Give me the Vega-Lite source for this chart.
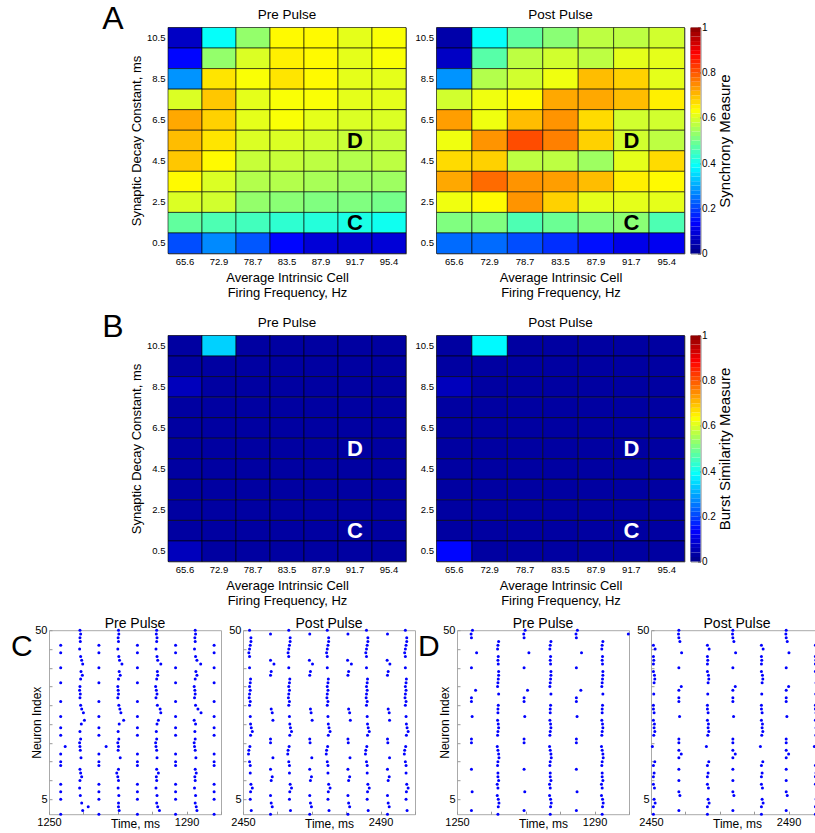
{
"$schema":"https://vega.github.io/schema/vega-lite/v6.json",
"padding":{"left":10,"top":2.5,"right":0,"bottom":0},
"config":{"font":"Liberation Sans","view":{"stroke":"#888888","strokeWidth":1},"axis":{"grid":false,"domain":false,"ticks":false,"labelColor":"#000000","titleColor":"#000000","titleFontWeight":"normal","labelFont":"Liberation Sans","titleFont":"Liberation Sans"},"title":{"fontWeight":"normal","color":"#000000","font":"Liberation Sans"}},
"datasets":{
"ap":[
{"f":"65.6","d":10.5,"s":0.06},{"f":"72.9","d":10.5,"s":0.38},{"f":"78.7","d":10.5,"s":0.52},{"f":"83.5","d":10.5,"s":0.63},{"f":"87.9","d":10.5,"s":0.63},{"f":"91.7","d":10.5,"s":0.6},{"f":"95.4","d":10.5,"s":0.62},
{"f":"65.6","d":9.5,"s":0.13},{"f":"72.9","d":9.5,"s":0.52},{"f":"78.7","d":9.5,"s":0.59},{"f":"83.5","d":9.5,"s":0.64},{"f":"87.9","d":9.5,"s":0.63},{"f":"91.7","d":9.5,"s":0.6},{"f":"95.4","d":9.5,"s":0.62},
{"f":"65.6","d":8.5,"s":0.27},{"f":"72.9","d":8.5,"s":0.65},{"f":"78.7","d":8.5,"s":0.62},{"f":"83.5","d":8.5,"s":0.65},{"f":"87.9","d":8.5,"s":0.63},{"f":"91.7","d":8.5,"s":0.6},{"f":"95.4","d":8.5,"s":0.6},
{"f":"65.6","d":7.5,"s":0.59},{"f":"72.9","d":7.5,"s":0.68},{"f":"78.7","d":7.5,"s":0.6},{"f":"83.5","d":7.5,"s":0.62},{"f":"87.9","d":7.5,"s":0.62},{"f":"91.7","d":7.5,"s":0.6},{"f":"95.4","d":7.5,"s":0.6},
{"f":"65.6","d":6.5,"s":0.71},{"f":"72.9","d":6.5,"s":0.67},{"f":"78.7","d":6.5,"s":0.6},{"f":"83.5","d":6.5,"s":0.62},{"f":"87.9","d":6.5,"s":0.6},{"f":"91.7","d":6.5,"s":0.59},{"f":"95.4","d":6.5,"s":0.59},
{"f":"65.6","d":5.5,"s":0.69},{"f":"72.9","d":5.5,"s":0.65},{"f":"78.7","d":5.5,"s":0.59},{"f":"83.5","d":5.5,"s":0.59},{"f":"87.9","d":5.5,"s":0.58},{"f":"91.7","d":5.5,"s":0.57},{"f":"95.4","d":5.5,"s":0.57},
{"f":"65.6","d":4.5,"s":0.68},{"f":"72.9","d":4.5,"s":0.63},{"f":"78.7","d":4.5,"s":0.57},{"f":"83.5","d":4.5,"s":0.57},{"f":"87.9","d":4.5,"s":0.56},{"f":"91.7","d":4.5,"s":0.55},{"f":"95.4","d":4.5,"s":0.56},
{"f":"65.6","d":3.5,"s":0.63},{"f":"72.9","d":3.5,"s":0.59},{"f":"78.7","d":3.5,"s":0.55},{"f":"83.5","d":3.5,"s":0.55},{"f":"87.9","d":3.5,"s":0.54},{"f":"91.7","d":3.5,"s":0.53},{"f":"95.4","d":3.5,"s":0.53},
{"f":"65.6","d":2.5,"s":0.59},{"f":"72.9","d":2.5,"s":0.58},{"f":"78.7","d":2.5,"s":0.52},{"f":"83.5","d":2.5,"s":0.51},{"f":"87.9","d":2.5,"s":0.5},{"f":"91.7","d":2.5,"s":0.5},{"f":"95.4","d":2.5,"s":0.49},
{"f":"65.6","d":1.5,"s":0.47},{"f":"72.9","d":1.5,"s":0.45},{"f":"78.7","d":1.5,"s":0.44},{"f":"83.5","d":1.5,"s":0.42},{"f":"87.9","d":1.5,"s":0.41},{"f":"91.7","d":1.5,"s":0.4},{"f":"95.4","d":1.5,"s":0.39},
{"f":"65.6","d":0.5,"s":0.2},{"f":"72.9","d":0.5,"s":0.26},{"f":"78.7","d":0.5,"s":0.21},{"f":"83.5","d":0.5,"s":0.13},{"f":"87.9","d":0.5,"s":0.08},{"f":"91.7","d":0.5,"s":0.07},{"f":"95.4","d":0.5,"s":0.08}
],
"aq":[
{"f":"65.6","d":10.5,"s":0.03},{"f":"72.9","d":10.5,"s":0.38},{"f":"78.7","d":10.5,"s":0.47},{"f":"83.5","d":10.5,"s":0.51},{"f":"87.9","d":10.5,"s":0.56},{"f":"91.7","d":10.5,"s":0.56},{"f":"95.4","d":10.5,"s":0.58},
{"f":"65.6","d":9.5,"s":0.06},{"f":"72.9","d":9.5,"s":0.46},{"f":"78.7","d":9.5,"s":0.56},{"f":"83.5","d":9.5,"s":0.58},{"f":"87.9","d":9.5,"s":0.56},{"f":"91.7","d":9.5,"s":0.6},{"f":"95.4","d":9.5,"s":0.6},
{"f":"65.6","d":8.5,"s":0.27},{"f":"72.9","d":8.5,"s":0.55},{"f":"78.7","d":8.5,"s":0.58},{"f":"83.5","d":8.5,"s":0.61},{"f":"87.9","d":8.5,"s":0.69},{"f":"91.7","d":8.5,"s":0.67},{"f":"95.4","d":8.5,"s":0.6},
{"f":"65.6","d":7.5,"s":0.58},{"f":"72.9","d":7.5,"s":0.61},{"f":"78.7","d":7.5,"s":0.63},{"f":"83.5","d":7.5,"s":0.71},{"f":"87.9","d":7.5,"s":0.71},{"f":"91.7","d":7.5,"s":0.69},{"f":"95.4","d":7.5,"s":0.64},
{"f":"65.6","d":6.5,"s":0.72},{"f":"72.9","d":6.5,"s":0.61},{"f":"78.7","d":6.5,"s":0.69},{"f":"83.5","d":6.5,"s":0.73},{"f":"87.9","d":6.5,"s":0.66},{"f":"91.7","d":6.5,"s":0.58},{"f":"95.4","d":6.5,"s":0.58},
{"f":"65.6","d":5.5,"s":0.61},{"f":"72.9","d":5.5,"s":0.73},{"f":"78.7","d":5.5,"s":0.8},{"f":"83.5","d":5.5,"s":0.75},{"f":"87.9","d":5.5,"s":0.67},{"f":"91.7","d":5.5,"s":0.58},{"f":"95.4","d":5.5,"s":0.56},
{"f":"65.6","d":4.5,"s":0.66},{"f":"72.9","d":4.5,"s":0.67},{"f":"78.7","d":4.5,"s":0.56},{"f":"83.5","d":4.5,"s":0.56},{"f":"87.9","d":4.5,"s":0.53},{"f":"91.7","d":4.5,"s":0.6},{"f":"95.4","d":4.5,"s":0.66},
{"f":"65.6","d":3.5,"s":0.71},{"f":"72.9","d":3.5,"s":0.77},{"f":"78.7","d":3.5,"s":0.73},{"f":"83.5","d":3.5,"s":0.72},{"f":"87.9","d":3.5,"s":0.69},{"f":"91.7","d":3.5,"s":0.64},{"f":"95.4","d":3.5,"s":0.63},
{"f":"65.6","d":2.5,"s":0.61},{"f":"72.9","d":2.5,"s":0.63},{"f":"78.7","d":2.5,"s":0.73},{"f":"83.5","d":2.5,"s":0.67},{"f":"87.9","d":2.5,"s":0.6},{"f":"91.7","d":2.5,"s":0.6},{"f":"95.4","d":2.5,"s":0.6},
{"f":"65.6","d":1.5,"s":0.5},{"f":"72.9","d":1.5,"s":0.5},{"f":"78.7","d":1.5,"s":0.45},{"f":"83.5","d":1.5,"s":0.48},{"f":"87.9","d":1.5,"s":0.5},{"f":"91.7","d":1.5,"s":0.51},{"f":"95.4","d":1.5,"s":0.45},
{"f":"65.6","d":0.5,"s":0.23},{"f":"72.9","d":0.5,"s":0.23},{"f":"78.7","d":0.5,"s":0.2},{"f":"83.5","d":0.5,"s":0.17},{"f":"87.9","d":0.5,"s":0.14},{"f":"91.7","d":0.5,"s":0.1},{"f":"95.4","d":0.5,"s":0.11}
],
"bp":[
{"f":"65.6","d":10.5,"s":0.02},{"f":"72.9","d":10.5,"s":0.33},{"f":"78.7","d":10.5,"s":0.02},{"f":"83.5","d":10.5,"s":0.02},{"f":"87.9","d":10.5,"s":0.02},{"f":"91.7","d":10.5,"s":0.02},{"f":"95.4","d":10.5,"s":0.02},
{"f":"65.6","d":9.5,"s":0.02},{"f":"72.9","d":9.5,"s":0.02},{"f":"78.7","d":9.5,"s":0.02},{"f":"83.5","d":9.5,"s":0.02},{"f":"87.9","d":9.5,"s":0.02},{"f":"91.7","d":9.5,"s":0.02},{"f":"95.4","d":9.5,"s":0.02},
{"f":"65.6","d":8.5,"s":0.05},{"f":"72.9","d":8.5,"s":0.02},{"f":"78.7","d":8.5,"s":0.02},{"f":"83.5","d":8.5,"s":0.02},{"f":"87.9","d":8.5,"s":0.02},{"f":"91.7","d":8.5,"s":0.02},{"f":"95.4","d":8.5,"s":0.02},
{"f":"65.6","d":7.5,"s":0.02},{"f":"72.9","d":7.5,"s":0.02},{"f":"78.7","d":7.5,"s":0.02},{"f":"83.5","d":7.5,"s":0.02},{"f":"87.9","d":7.5,"s":0.02},{"f":"91.7","d":7.5,"s":0.02},{"f":"95.4","d":7.5,"s":0.02},
{"f":"65.6","d":6.5,"s":0.02},{"f":"72.9","d":6.5,"s":0.02},{"f":"78.7","d":6.5,"s":0.02},{"f":"83.5","d":6.5,"s":0.02},{"f":"87.9","d":6.5,"s":0.02},{"f":"91.7","d":6.5,"s":0.02},{"f":"95.4","d":6.5,"s":0.02},
{"f":"65.6","d":5.5,"s":0.02},{"f":"72.9","d":5.5,"s":0.02},{"f":"78.7","d":5.5,"s":0.02},{"f":"83.5","d":5.5,"s":0.02},{"f":"87.9","d":5.5,"s":0.02},{"f":"91.7","d":5.5,"s":0.02},{"f":"95.4","d":5.5,"s":0.02},
{"f":"65.6","d":4.5,"s":0.02},{"f":"72.9","d":4.5,"s":0.02},{"f":"78.7","d":4.5,"s":0.02},{"f":"83.5","d":4.5,"s":0.02},{"f":"87.9","d":4.5,"s":0.02},{"f":"91.7","d":4.5,"s":0.02},{"f":"95.4","d":4.5,"s":0.02},
{"f":"65.6","d":3.5,"s":0.02},{"f":"72.9","d":3.5,"s":0.02},{"f":"78.7","d":3.5,"s":0.02},{"f":"83.5","d":3.5,"s":0.02},{"f":"87.9","d":3.5,"s":0.02},{"f":"91.7","d":3.5,"s":0.02},{"f":"95.4","d":3.5,"s":0.02},
{"f":"65.6","d":2.5,"s":0.02},{"f":"72.9","d":2.5,"s":0.02},{"f":"78.7","d":2.5,"s":0.02},{"f":"83.5","d":2.5,"s":0.02},{"f":"87.9","d":2.5,"s":0.02},{"f":"91.7","d":2.5,"s":0.02},{"f":"95.4","d":2.5,"s":0.02},
{"f":"65.6","d":1.5,"s":0.02},{"f":"72.9","d":1.5,"s":0.02},{"f":"78.7","d":1.5,"s":0.02},{"f":"83.5","d":1.5,"s":0.02},{"f":"87.9","d":1.5,"s":0.02},{"f":"91.7","d":1.5,"s":0.02},{"f":"95.4","d":1.5,"s":0.02},
{"f":"65.6","d":0.5,"s":0.05},{"f":"72.9","d":0.5,"s":0.02},{"f":"78.7","d":0.5,"s":0.02},{"f":"83.5","d":0.5,"s":0.02},{"f":"87.9","d":0.5,"s":0.02},{"f":"91.7","d":0.5,"s":0.02},{"f":"95.4","d":0.5,"s":0.02}
],
"bq":[
{"f":"65.6","d":10.5,"s":0.02},{"f":"72.9","d":10.5,"s":0.37},{"f":"78.7","d":10.5,"s":0.02},{"f":"83.5","d":10.5,"s":0.02},{"f":"87.9","d":10.5,"s":0.02},{"f":"91.7","d":10.5,"s":0.02},{"f":"95.4","d":10.5,"s":0.02},
{"f":"65.6","d":9.5,"s":0.02},{"f":"72.9","d":9.5,"s":0.02},{"f":"78.7","d":9.5,"s":0.02},{"f":"83.5","d":9.5,"s":0.02},{"f":"87.9","d":9.5,"s":0.02},{"f":"91.7","d":9.5,"s":0.02},{"f":"95.4","d":9.5,"s":0.02},
{"f":"65.6","d":8.5,"s":0.05},{"f":"72.9","d":8.5,"s":0.02},{"f":"78.7","d":8.5,"s":0.02},{"f":"83.5","d":8.5,"s":0.02},{"f":"87.9","d":8.5,"s":0.02},{"f":"91.7","d":8.5,"s":0.02},{"f":"95.4","d":8.5,"s":0.02},
{"f":"65.6","d":7.5,"s":0.02},{"f":"72.9","d":7.5,"s":0.02},{"f":"78.7","d":7.5,"s":0.02},{"f":"83.5","d":7.5,"s":0.02},{"f":"87.9","d":7.5,"s":0.02},{"f":"91.7","d":7.5,"s":0.02},{"f":"95.4","d":7.5,"s":0.02},
{"f":"65.6","d":6.5,"s":0.02},{"f":"72.9","d":6.5,"s":0.02},{"f":"78.7","d":6.5,"s":0.02},{"f":"83.5","d":6.5,"s":0.02},{"f":"87.9","d":6.5,"s":0.02},{"f":"91.7","d":6.5,"s":0.02},{"f":"95.4","d":6.5,"s":0.02},
{"f":"65.6","d":5.5,"s":0.02},{"f":"72.9","d":5.5,"s":0.02},{"f":"78.7","d":5.5,"s":0.02},{"f":"83.5","d":5.5,"s":0.02},{"f":"87.9","d":5.5,"s":0.02},{"f":"91.7","d":5.5,"s":0.02},{"f":"95.4","d":5.5,"s":0.02},
{"f":"65.6","d":4.5,"s":0.02},{"f":"72.9","d":4.5,"s":0.02},{"f":"78.7","d":4.5,"s":0.02},{"f":"83.5","d":4.5,"s":0.02},{"f":"87.9","d":4.5,"s":0.02},{"f":"91.7","d":4.5,"s":0.02},{"f":"95.4","d":4.5,"s":0.02},
{"f":"65.6","d":3.5,"s":0.02},{"f":"72.9","d":3.5,"s":0.02},{"f":"78.7","d":3.5,"s":0.02},{"f":"83.5","d":3.5,"s":0.02},{"f":"87.9","d":3.5,"s":0.02},{"f":"91.7","d":3.5,"s":0.02},{"f":"95.4","d":3.5,"s":0.02},
{"f":"65.6","d":2.5,"s":0.02},{"f":"72.9","d":2.5,"s":0.02},{"f":"78.7","d":2.5,"s":0.02},{"f":"83.5","d":2.5,"s":0.02},{"f":"87.9","d":2.5,"s":0.02},{"f":"91.7","d":2.5,"s":0.02},{"f":"95.4","d":2.5,"s":0.02},
{"f":"65.6","d":1.5,"s":0.02},{"f":"72.9","d":1.5,"s":0.02},{"f":"78.7","d":1.5,"s":0.02},{"f":"83.5","d":1.5,"s":0.02},{"f":"87.9","d":1.5,"s":0.02},{"f":"91.7","d":1.5,"s":0.02},{"f":"95.4","d":1.5,"s":0.02},
{"f":"65.6","d":0.5,"s":0.13},{"f":"72.9","d":0.5,"s":0.02},{"f":"78.7","d":0.5,"s":0.02},{"f":"83.5","d":0.5,"s":0.02},{"f":"87.9","d":0.5,"s":0.02},{"f":"91.7","d":0.5,"s":0.02},{"f":"95.4","d":0.5,"s":0.02}
],
"cb":[
{"v":0,"w":0.02},{"v":0.02,"w":0.04},{"v":0.04,"w":0.06},{"v":0.06,"w":0.08},{"v":0.08,"w":0.1},{"v":0.1,"w":0.12},{"v":0.12,"w":0.14},{"v":0.14,"w":0.16},{"v":0.16,"w":0.18},{"v":0.18,"w":0.2},
{"v":0.2,"w":0.22},{"v":0.22,"w":0.24},{"v":0.24,"w":0.26},{"v":0.26,"w":0.28},{"v":0.28,"w":0.3},{"v":0.3,"w":0.32},{"v":0.32,"w":0.34},{"v":0.34,"w":0.36},{"v":0.36,"w":0.38},{"v":0.38,"w":0.4},
{"v":0.4,"w":0.42},{"v":0.42,"w":0.44},{"v":0.44,"w":0.46},{"v":0.46,"w":0.48},{"v":0.48,"w":0.5},{"v":0.5,"w":0.52},{"v":0.52,"w":0.54},{"v":0.54,"w":0.56},{"v":0.56,"w":0.58},{"v":0.58,"w":0.6},
{"v":0.6,"w":0.62},{"v":0.62,"w":0.64},{"v":0.64,"w":0.66},{"v":0.66,"w":0.68},{"v":0.68,"w":0.7},{"v":0.7,"w":0.72},{"v":0.72,"w":0.74},{"v":0.74,"w":0.76},{"v":0.76,"w":0.78},{"v":0.78,"w":0.8},
{"v":0.8,"w":0.82},{"v":0.82,"w":0.84},{"v":0.84,"w":0.86},{"v":0.86,"w":0.88},{"v":0.88,"w":0.9},{"v":0.9,"w":0.92},{"v":0.92,"w":0.94},{"v":0.94,"w":0.96},{"v":0.96,"w":0.98},{"v":0.98,"w":1}
],
"c1":[
{"t":1253.4,"n":46},{"t":1253.4,"n":44},{"t":1253.4,"n":40},{"t":1253.4,"n":36},{"t":1253.4,"n":31},{"t":1253.4,"n":27},{"t":1253.4,"n":24},{"t":1253.4,"n":22},{"t":1253.4,"n":17},{"t":1253.4,"n":15},{"t":1253.4,"n":14},{"t":1253.4,"n":9},{"t":1253.4,"n":7},{"t":1253.4,"n":5},{"t":1253.4,"n":1},
{"t":1264.5,"n":46},{"t":1264.5,"n":44},{"t":1264.5,"n":40},{"t":1264.5,"n":36},{"t":1264.5,"n":31},{"t":1264.5,"n":27},{"t":1264.5,"n":24},{"t":1264.5,"n":22},{"t":1264.5,"n":17},{"t":1264.5,"n":15},{"t":1264.5,"n":14},{"t":1264.5,"n":9},{"t":1264.5,"n":7},{"t":1264.5,"n":5},{"t":1264.5,"n":1},
{"t":1275.7,"n":46},{"t":1275.7,"n":44},{"t":1275.7,"n":40},{"t":1275.7,"n":36},{"t":1275.7,"n":31},{"t":1275.7,"n":27},{"t":1275.7,"n":24},{"t":1275.7,"n":22},{"t":1275.7,"n":17},{"t":1275.7,"n":15},{"t":1275.7,"n":14},{"t":1275.7,"n":9},{"t":1275.7,"n":7},{"t":1275.7,"n":5},{"t":1275.7,"n":1},
{"t":1286.8,"n":46},{"t":1286.8,"n":44},{"t":1286.8,"n":40},{"t":1286.8,"n":36},{"t":1286.8,"n":31},{"t":1286.8,"n":27},{"t":1286.8,"n":24},{"t":1286.8,"n":22},{"t":1286.8,"n":17},{"t":1286.8,"n":15},{"t":1286.8,"n":14},{"t":1286.8,"n":9},{"t":1286.8,"n":7},{"t":1286.8,"n":5},{"t":1286.8,"n":1},
{"t":1298,"n":46},{"t":1298,"n":44},{"t":1298,"n":40},{"t":1298,"n":36},{"t":1298,"n":31},{"t":1298,"n":27},{"t":1298,"n":24},{"t":1298,"n":22},{"t":1298,"n":17},{"t":1298,"n":15},{"t":1298,"n":14},{"t":1298,"n":9},{"t":1298,"n":7},{"t":1298,"n":5},{"t":1298,"n":1},
{"t":1254.7,"n":19},{"t":1266.6,"n":19},
{"t":1259,"n":50},{"t":1259.2,"n":49},{"t":1259,"n":48},{"t":1259.1,"n":47},{"t":1258.9,"n":45},{"t":1259.2,"n":43},{"t":1259.5,"n":42},{"t":1259.8,"n":41},{"t":1259.3,"n":39},{"t":1259.7,"n":38},{"t":1259.2,"n":37},{"t":1259,"n":35},{"t":1258.9,"n":34},{"t":1259.1,"n":33},{"t":1259,"n":32},{"t":1259.2,"n":30},{"t":1259.5,"n":29},{"t":1260,"n":28},{"t":1260.3,"n":26},{"t":1259.4,"n":25},{"t":1259,"n":23},{"t":1259.2,"n":21},{"t":1258.9,"n":20},{"t":1259,"n":19},{"t":1259.1,"n":18},{"t":1259.3,"n":16},{"t":1259,"n":13},{"t":1259.2,"n":12},{"t":1259.5,"n":11},{"t":1259,"n":10},{"t":1258.9,"n":8},{"t":1259.1,"n":6},{"t":1259.5,"n":4},{"t":1261.4,"n":3},{"t":1259.8,"n":2},
{"t":1270.2,"n":50},{"t":1270.3,"n":49},{"t":1270.1,"n":48},{"t":1270.2,"n":47},{"t":1270,"n":45},{"t":1270.3,"n":43},{"t":1270.5,"n":42},{"t":1271.2,"n":41},{"t":1270.4,"n":39},{"t":1270.7,"n":38},{"t":1270.2,"n":37},{"t":1270,"n":35},{"t":1270.1,"n":34},{"t":1270.2,"n":33},{"t":1270,"n":32},{"t":1270.3,"n":30},{"t":1270.6,"n":29},{"t":1270.9,"n":28},{"t":1271.7,"n":26},{"t":1270.4,"n":25},{"t":1270.1,"n":23},{"t":1270.3,"n":21},{"t":1270,"n":20},{"t":1270.2,"n":19},{"t":1270.1,"n":18},{"t":1270.7,"n":16},{"t":1270.2,"n":13},{"t":1269.7,"n":12},{"t":1270,"n":11},{"t":1270.2,"n":10},{"t":1270.1,"n":8},{"t":1270.3,"n":6},{"t":1270.2,"n":4},{"t":1270.2,"n":3},{"t":1270.4,"n":2},
{"t":1281.3,"n":50},{"t":1281.2,"n":49},{"t":1281.4,"n":48},{"t":1281.3,"n":47},{"t":1281.1,"n":45},{"t":1281.4,"n":43},{"t":1281.6,"n":42},{"t":1282.5,"n":41},{"t":1281.5,"n":39},{"t":1281.6,"n":38},{"t":1281.3,"n":37},{"t":1281,"n":35},{"t":1281.2,"n":34},{"t":1281.4,"n":33},{"t":1281.1,"n":32},{"t":1281.5,"n":30},{"t":1282.3,"n":29},{"t":1282.5,"n":28},{"t":1281.8,"n":26},{"t":1281.4,"n":25},{"t":1281.2,"n":23},{"t":1281.3,"n":21},{"t":1281,"n":20},{"t":1281.1,"n":19},{"t":1281.3,"n":18},{"t":1281.4,"n":16},{"t":1281.3,"n":13},{"t":1281.8,"n":12},{"t":1281.2,"n":11},{"t":1281.3,"n":10},{"t":1281.1,"n":8},{"t":1281.4,"n":6},{"t":1281.3,"n":4},{"t":1281.6,"n":3},{"t":1282.1,"n":2},
{"t":1292.5,"n":50},{"t":1292.6,"n":49},{"t":1292.4,"n":48},{"t":1292.5,"n":47},{"t":1292.3,"n":45},{"t":1292.6,"n":43},{"t":1293,"n":42},{"t":1294.1,"n":41},{"t":1292.7,"n":39},{"t":1293,"n":38},{"t":1292.5,"n":37},{"t":1292.2,"n":35},{"t":1292.4,"n":34},{"t":1292.5,"n":33},{"t":1292.3,"n":32},{"t":1292.6,"n":30},{"t":1293.3,"n":29},{"t":1294.2,"n":28},{"t":1292.2,"n":26},{"t":1292.6,"n":25},{"t":1292.4,"n":23},{"t":1292.5,"n":21},{"t":1292.2,"n":20},{"t":1292.3,"n":19},{"t":1292.5,"n":18},{"t":1292.7,"n":16},{"t":1292.5,"n":13},{"t":1292.8,"n":12},{"t":1292.4,"n":11},{"t":1292.5,"n":10},{"t":1292.3,"n":8},{"t":1292.6,"n":6},{"t":1292.5,"n":4},{"t":1292.8,"n":3},{"t":1293,"n":2}
],
"c2":[
{"t":2458,"n":49},{"t":2458,"n":42},{"t":2459,"n":41},{"t":2458.2,"n":39},{"t":2458,"n":38},{"t":2458.2,"n":29},{"t":2458.5,"n":28},{"t":2458.7,"n":26},{"t":2458,"n":21},{"t":2458,"n":20},{"t":2458.7,"n":16},{"t":2458,"n":13},{"t":2458.5,"n":11},{"t":2458.2,"n":10},{"t":2458,"n":6},{"t":2458.2,"n":4},{"t":2458.5,"n":3},{"t":2458,"n":1},
{"t":2469.4,"n":49},{"t":2469.3,"n":42},{"t":2470.2,"n":41},{"t":2469.6,"n":39},{"t":2469.4,"n":38},{"t":2469.6,"n":29},{"t":2469.8,"n":28},{"t":2470.1,"n":26},{"t":2469.4,"n":21},{"t":2469.5,"n":20},{"t":2470,"n":16},{"t":2469.4,"n":13},{"t":2469.9,"n":11},{"t":2469.6,"n":10},{"t":2469.4,"n":6},{"t":2469.6,"n":4},{"t":2469.9,"n":3},{"t":2469.4,"n":1},
{"t":2480.5,"n":49},{"t":2480.4,"n":42},{"t":2481.5,"n":41},{"t":2480.7,"n":39},{"t":2480.5,"n":38},{"t":2480.7,"n":29},{"t":2481,"n":28},{"t":2481.2,"n":26},{"t":2480.5,"n":21},{"t":2480.6,"n":20},{"t":2481.1,"n":16},{"t":2480.5,"n":13},{"t":2481,"n":11},{"t":2480.7,"n":10},{"t":2480.5,"n":6},{"t":2480.7,"n":4},{"t":2481,"n":3},{"t":2480.5,"n":1},
{"t":2492,"n":49},{"t":2491.9,"n":42},{"t":2492.7,"n":41},{"t":2492.2,"n":39},{"t":2492,"n":38},{"t":2492.2,"n":29},{"t":2492.5,"n":28},{"t":2492.6,"n":26},{"t":2492,"n":21},{"t":2492.1,"n":20},{"t":2492.6,"n":16},{"t":2492,"n":13},{"t":2492.5,"n":11},{"t":2492.2,"n":10},{"t":2492,"n":6},{"t":2492.2,"n":4},{"t":2492.5,"n":3},{"t":2492,"n":1},
{"t":2451.9,"n":50},{"t":2452.3,"n":48},{"t":2452.3,"n":47},{"t":2452.1,"n":46},{"t":2451.9,"n":45},{"t":2451.7,"n":44},{"t":2451.9,"n":43},{"t":2451.9,"n":40},{"t":2452.2,"n":37},{"t":2452.1,"n":36},{"t":2451.9,"n":35},{"t":2452.1,"n":34},{"t":2451.9,"n":33},{"t":2451.8,"n":32},{"t":2452.1,"n":31},{"t":2451.9,"n":30},{"t":2452.1,"n":27},{"t":2452.2,"n":25},{"t":2452.4,"n":24},{"t":2452.7,"n":23},{"t":2452.2,"n":22},{"t":2452,"n":19},{"t":2451.7,"n":18},{"t":2451.6,"n":17},{"t":2451.9,"n":15},{"t":2452.1,"n":14},{"t":2452.1,"n":12},{"t":2452.3,"n":9},{"t":2452.7,"n":8},{"t":2452.2,"n":7},{"t":2452.1,"n":5},{"t":2452.4,"n":2},
{"t":2463.3,"n":50},{"t":2463.7,"n":48},{"t":2463.7,"n":47},{"t":2463.5,"n":46},{"t":2463.3,"n":45},{"t":2463.1,"n":44},{"t":2463.3,"n":43},{"t":2463.3,"n":40},{"t":2463.6,"n":37},{"t":2463.5,"n":36},{"t":2463.3,"n":35},{"t":2463.5,"n":34},{"t":2463.3,"n":33},{"t":2463.2,"n":32},{"t":2463.5,"n":31},{"t":2463.3,"n":30},{"t":2463.5,"n":27},{"t":2463.6,"n":25},{"t":2463.8,"n":24},{"t":2464.1,"n":23},{"t":2463.6,"n":22},{"t":2463.4,"n":19},{"t":2463.1,"n":18},{"t":2463,"n":17},{"t":2463.3,"n":15},{"t":2463.5,"n":14},{"t":2463.5,"n":12},{"t":2463.7,"n":9},{"t":2464.1,"n":8},{"t":2463.6,"n":7},{"t":2463.5,"n":5},{"t":2463.8,"n":2},
{"t":2474.5,"n":50},{"t":2474.9,"n":48},{"t":2474.9,"n":47},{"t":2474.7,"n":46},{"t":2474.5,"n":45},{"t":2474.3,"n":44},{"t":2474.5,"n":43},{"t":2474.5,"n":40},{"t":2474.8,"n":37},{"t":2474.7,"n":36},{"t":2474.5,"n":35},{"t":2474.7,"n":34},{"t":2474.5,"n":33},{"t":2474.4,"n":32},{"t":2474.7,"n":31},{"t":2474.5,"n":30},{"t":2474.7,"n":27},{"t":2474.8,"n":25},{"t":2475,"n":24},{"t":2475.3,"n":23},{"t":2474.8,"n":22},{"t":2474.6,"n":19},{"t":2474.3,"n":18},{"t":2474.2,"n":17},{"t":2474.5,"n":15},{"t":2474.7,"n":14},{"t":2474.7,"n":12},{"t":2474.9,"n":9},{"t":2475.3,"n":8},{"t":2474.8,"n":7},{"t":2474.7,"n":5},{"t":2475,"n":2},
{"t":2485.9,"n":50},{"t":2486.3,"n":48},{"t":2486.3,"n":47},{"t":2486.1,"n":46},{"t":2485.9,"n":45},{"t":2485.7,"n":44},{"t":2485.9,"n":43},{"t":2485.9,"n":40},{"t":2486.2,"n":37},{"t":2486.1,"n":36},{"t":2485.9,"n":35},{"t":2486.1,"n":34},{"t":2485.9,"n":33},{"t":2485.8,"n":32},{"t":2486.1,"n":31},{"t":2485.9,"n":30},{"t":2486.1,"n":27},{"t":2486.2,"n":25},{"t":2486.4,"n":24},{"t":2486.7,"n":23},{"t":2486.2,"n":22},{"t":2486,"n":19},{"t":2485.7,"n":18},{"t":2485.6,"n":17},{"t":2485.9,"n":15},{"t":2486.1,"n":14},{"t":2486.1,"n":12},{"t":2486.3,"n":9},{"t":2486.7,"n":8},{"t":2486.2,"n":7},{"t":2486.1,"n":5},{"t":2486.4,"n":2},
{"t":2497.2,"n":50},{"t":2497.6,"n":48},{"t":2497.6,"n":47},{"t":2497.4,"n":46},{"t":2497.2,"n":45},{"t":2497,"n":44},{"t":2497.2,"n":43},{"t":2497.2,"n":40},{"t":2497.5,"n":37},{"t":2497.4,"n":36},{"t":2497.2,"n":35},{"t":2497.4,"n":34},{"t":2497.2,"n":33},{"t":2497.1,"n":32},{"t":2497.4,"n":31},{"t":2497.2,"n":30},{"t":2497.4,"n":27},{"t":2497.5,"n":25},{"t":2497.7,"n":24},{"t":2498,"n":23},{"t":2497.5,"n":22},{"t":2497.3,"n":19},{"t":2497,"n":18},{"t":2496.9,"n":17},{"t":2497.2,"n":15},{"t":2497.4,"n":14},{"t":2497.4,"n":12},{"t":2497.6,"n":9},{"t":2498,"n":8},{"t":2497.5,"n":7},{"t":2497.4,"n":5},{"t":2497.7,"n":2}
],
"d1":[
{"t":1254.5,"n":50},{"t":1254.1,"n":49},{"t":1254.2,"n":48},{"t":1255.7,"n":44},{"t":1254.2,"n":40},{"t":1255.4,"n":34},{"t":1254.2,"n":32},{"t":1254.2,"n":31},{"t":1254.4,"n":27},{"t":1254.2,"n":21},{"t":1254.2,"n":20},{"t":1254.2,"n":13},{"t":1254.4,"n":7},{"t":1254.2,"n":2},
{"t":1269.8,"n":50},{"t":1269.4,"n":49},{"t":1269.5,"n":48},{"t":1270.9,"n":44},{"t":1269.5,"n":40},{"t":1270.5,"n":34},{"t":1269.5,"n":32},{"t":1269.5,"n":31},{"t":1269.7,"n":27},{"t":1269.5,"n":21},{"t":1269.5,"n":20},{"t":1269.5,"n":13},{"t":1269.7,"n":7},{"t":1269.5,"n":2},
{"t":1285,"n":50},{"t":1284.6,"n":49},{"t":1284.7,"n":48},{"t":1286.2,"n":44},{"t":1284.7,"n":40},{"t":1286,"n":34},{"t":1284.7,"n":32},{"t":1284.7,"n":31},{"t":1284.9,"n":27},{"t":1284.7,"n":21},{"t":1284.7,"n":20},{"t":1284.7,"n":13},{"t":1284.9,"n":7},{"t":1284.7,"n":2},
{"t":1299.8,"n":49},
{"t":1262.1,"n":47},{"t":1261.9,"n":46},{"t":1261.8,"n":45},{"t":1262,"n":43},{"t":1261.9,"n":42},{"t":1262,"n":41},{"t":1262.1,"n":39},{"t":1262.1,"n":38},{"t":1262,"n":37},{"t":1261.9,"n":36},{"t":1261.8,"n":35},{"t":1262.1,"n":33},{"t":1262,"n":30},{"t":1261.9,"n":29},{"t":1261.9,"n":28},{"t":1261.8,"n":26},{"t":1262,"n":25},{"t":1262.1,"n":24},{"t":1261.9,"n":23},{"t":1261.8,"n":22},{"t":1261.7,"n":19},{"t":1261.9,"n":18},{"t":1262.1,"n":17},{"t":1262.2,"n":16},{"t":1261.9,"n":15},{"t":1261.8,"n":14},{"t":1261.9,"n":12},{"t":1261.9,"n":11},{"t":1262.1,"n":10},{"t":1261.7,"n":9},{"t":1261.9,"n":8},{"t":1261.7,"n":6},{"t":1262,"n":5},{"t":1262.2,"n":4},{"t":1262,"n":3},{"t":1261.9,"n":1},
{"t":1277.3,"n":47},{"t":1277.1,"n":46},{"t":1277,"n":45},{"t":1277.2,"n":43},{"t":1277.1,"n":42},{"t":1277.2,"n":41},{"t":1277.3,"n":39},{"t":1277.3,"n":38},{"t":1277.2,"n":37},{"t":1277.1,"n":36},{"t":1277,"n":35},{"t":1277.3,"n":33},{"t":1277.2,"n":30},{"t":1277.1,"n":29},{"t":1277.1,"n":28},{"t":1277,"n":26},{"t":1277.2,"n":25},{"t":1277.3,"n":24},{"t":1277.1,"n":23},{"t":1277,"n":22},{"t":1276.9,"n":19},{"t":1277.1,"n":18},{"t":1277.3,"n":17},{"t":1277.4,"n":16},{"t":1277.1,"n":15},{"t":1277,"n":14},{"t":1277.1,"n":12},{"t":1277.1,"n":11},{"t":1277.3,"n":10},{"t":1276.9,"n":9},{"t":1277.1,"n":8},{"t":1276.9,"n":6},{"t":1277.2,"n":5},{"t":1277.4,"n":4},{"t":1277.2,"n":3},{"t":1277.1,"n":1},
{"t":1292.4,"n":47},{"t":1292.2,"n":46},{"t":1292.1,"n":45},{"t":1292.3,"n":43},{"t":1292.2,"n":42},{"t":1292.3,"n":41},{"t":1292.4,"n":39},{"t":1292.4,"n":38},{"t":1292.3,"n":37},{"t":1292.2,"n":36},{"t":1292.1,"n":35},{"t":1292.4,"n":33},{"t":1292.3,"n":30},{"t":1292.2,"n":29},{"t":1292.2,"n":28},{"t":1292.1,"n":26},{"t":1292.3,"n":25},{"t":1292.4,"n":24},{"t":1292.2,"n":23},{"t":1292.1,"n":22},{"t":1292,"n":19},{"t":1292.2,"n":18},{"t":1292.4,"n":17},{"t":1292.5,"n":16},{"t":1292.2,"n":15},{"t":1292.1,"n":14},{"t":1292.2,"n":12},{"t":1292.2,"n":11},{"t":1292.4,"n":10},{"t":1292,"n":9},{"t":1292.2,"n":8},{"t":1292,"n":6},{"t":1292.3,"n":5},{"t":1292.5,"n":4},{"t":1292.3,"n":3},{"t":1292.2,"n":1}
],
"d2":[
{"t":2458.1,"n":50},{"t":2458,"n":49},{"t":2458.1,"n":48},{"t":2458.4,"n":47},{"t":2458.9,"n":44},{"t":2458.1,"n":40},{"t":2458.8,"n":35},{"t":2458.1,"n":34},{"t":2458.1,"n":32},{"t":2458.1,"n":31},{"t":2458.3,"n":27},{"t":2458.1,"n":21},{"t":2458.1,"n":20},{"t":2458.1,"n":18},{"t":2458.8,"n":17},{"t":2458.1,"n":16},{"t":2458.1,"n":13},{"t":2458.1,"n":10},{"t":2458.1,"n":7},{"t":2458.4,"n":6},{"t":2458.1,"n":2},
{"t":2473.8,"n":50},{"t":2473.7,"n":49},{"t":2473.8,"n":48},{"t":2474.1,"n":47},{"t":2474.6,"n":44},{"t":2473.8,"n":40},{"t":2474.5,"n":35},{"t":2473.8,"n":34},{"t":2473.8,"n":32},{"t":2473.8,"n":31},{"t":2474,"n":27},{"t":2473.8,"n":21},{"t":2473.8,"n":20},{"t":2473.8,"n":18},{"t":2474.5,"n":17},{"t":2473.8,"n":16},{"t":2473.8,"n":13},{"t":2473.8,"n":10},{"t":2473.8,"n":7},{"t":2474.1,"n":6},{"t":2473.8,"n":2},
{"t":2489.3,"n":50},{"t":2489.2,"n":49},{"t":2489.3,"n":48},{"t":2489.6,"n":47},{"t":2490.1,"n":44},{"t":2489.3,"n":40},{"t":2490,"n":35},{"t":2489.3,"n":34},{"t":2489.3,"n":32},{"t":2489.3,"n":31},{"t":2489.5,"n":27},{"t":2489.3,"n":21},{"t":2489.3,"n":20},{"t":2489.3,"n":18},{"t":2490,"n":17},{"t":2489.3,"n":16},{"t":2489.3,"n":13},{"t":2489.3,"n":10},{"t":2489.3,"n":7},{"t":2489.6,"n":6},{"t":2489.3,"n":2},
{"t":2450.7,"n":46},{"t":2451.2,"n":45},{"t":2450.7,"n":43},{"t":2450.8,"n":42},{"t":2450.7,"n":41},{"t":2450.7,"n":39},{"t":2451,"n":38},{"t":2451.1,"n":37},{"t":2450.9,"n":36},{"t":2450.8,"n":33},{"t":2450.7,"n":30},{"t":2450.7,"n":29},{"t":2450.9,"n":28},{"t":2450.7,"n":26},{"t":2451,"n":25},{"t":2450.9,"n":24},{"t":2451.1,"n":23},{"t":2450.8,"n":22},{"t":2450.4,"n":19},{"t":2451.1,"n":15},{"t":2450.7,"n":14},{"t":2450.9,"n":12},{"t":2450.7,"n":11},{"t":2450.7,"n":9},{"t":2451,"n":8},{"t":2450.9,"n":5},{"t":2451.2,"n":4},{"t":2450.7,"n":3},{"t":2450.7,"n":1},
{"t":2466.4,"n":46},{"t":2466.9,"n":45},{"t":2466.4,"n":43},{"t":2466.5,"n":42},{"t":2466.4,"n":41},{"t":2466.4,"n":39},{"t":2466.7,"n":38},{"t":2466.8,"n":37},{"t":2466.6,"n":36},{"t":2466.5,"n":33},{"t":2466.4,"n":30},{"t":2466.4,"n":29},{"t":2466.6,"n":28},{"t":2466.4,"n":26},{"t":2466.7,"n":25},{"t":2466.6,"n":24},{"t":2466.8,"n":23},{"t":2466.5,"n":22},{"t":2466.1,"n":19},{"t":2466.8,"n":15},{"t":2466.4,"n":14},{"t":2466.6,"n":12},{"t":2466.4,"n":11},{"t":2466.4,"n":9},{"t":2466.7,"n":8},{"t":2466.6,"n":5},{"t":2466.9,"n":4},{"t":2466.4,"n":3},{"t":2466.4,"n":1},
{"t":2482.1,"n":46},{"t":2482.6,"n":45},{"t":2482.1,"n":43},{"t":2482.2,"n":42},{"t":2482.1,"n":41},{"t":2482.1,"n":39},{"t":2482.4,"n":38},{"t":2482.5,"n":37},{"t":2482.3,"n":36},{"t":2482.2,"n":33},{"t":2482.1,"n":30},{"t":2482.1,"n":29},{"t":2482.3,"n":28},{"t":2482.1,"n":26},{"t":2482.4,"n":25},{"t":2482.3,"n":24},{"t":2482.5,"n":23},{"t":2482.2,"n":22},{"t":2481.8,"n":19},{"t":2482.5,"n":15},{"t":2482.1,"n":14},{"t":2482.3,"n":12},{"t":2482.1,"n":11},{"t":2482.1,"n":9},{"t":2482.4,"n":8},{"t":2482.3,"n":5},{"t":2482.6,"n":4},{"t":2482.1,"n":3},{"t":2482.1,"n":1},
{"t":2497.8,"n":46},{"t":2498.3,"n":45},{"t":2497.8,"n":43},{"t":2497.9,"n":42},{"t":2497.8,"n":41},{"t":2497.8,"n":39},{"t":2498.1,"n":38},{"t":2498.2,"n":37},{"t":2498,"n":36},{"t":2497.9,"n":33},{"t":2497.8,"n":30},{"t":2497.8,"n":29},{"t":2498,"n":28},{"t":2497.8,"n":26},{"t":2498.1,"n":25},{"t":2498,"n":24},{"t":2498.2,"n":23},{"t":2497.9,"n":22},{"t":2497.5,"n":19},{"t":2498.2,"n":15},{"t":2497.8,"n":14},{"t":2498,"n":12},{"t":2497.8,"n":11},{"t":2497.8,"n":9},{"t":2498.1,"n":8},{"t":2498,"n":5},{"t":2498.3,"n":4},{"t":2497.8,"n":3},{"t":2497.8,"n":1}
]
},
"resolve":{"scale":{"color":"independent"}},
"spacing":8.7,
"vconcat":[
{
"resolve":{"scale":{"color":"independent"}},
"spacing":0,
"hconcat":[
{"width":52.7,"height":10,"data":{"values":[]},"mark":"point","view":{"stroke":null}},
{
"resolve":{"scale":{"color":"independent"}},
"spacing":11,
"vconcat":[
{
"title":{"text":"A","orient":"left","anchor":"end","angle":0,"align":"right","baseline":"top","fontSize":32,"offset":0,"dx":15,"dy":-3.5},
"resolve":{"scale":{"color":"independent"}},
"spacing":7.5,
"hconcat":[
{
"width":238,"height":226,
"title":{"text":"Pre Pulse","fontSize":13.5,"offset":6},
"encoding":{
"x":{"field":"f","type":"nominal","axis":{"title":["Average Intrinsic Cell","Firing Frequency, Hz"],"labelAngle":0,"labelFontSize":9.5,"labelPadding":3,"titleFontSize":13,"titlePadding":5,"titleLineHeight":15}},
"y":{"field":"d","type":"ordinal","sort":"descending","axis":{"values":[0.5,2.5,4.5,6.5,8.5,10.5],"title":"Synaptic Decay Constant, ms","labelFontSize":9.5,"labelPadding":3,"titleFontSize":13,"titlePadding":3}}
},
"layer":[
{"data":{"name":"ap"},"mark":{"type":"rect","stroke":"#000000","strokeWidth":0.6},"encoding":{"color":{"field":"s","type":"quantitative","scale":{"type":"linear","domain":[0,0.125,0.375,0.625,0.875,1],"range":["#00008f","#0000ff","#00ffff","#ffff00","#ff0000","#800000"],"interpolate":"rgb"},"legend":null}}},
{"data":{"values":[{"f":"91.7","d":5.5,"l":"D"},{"f":"91.7","d":1.5,"l":"C"}]},"mark":{"type":"text","fontSize":22,"fontWeight":"bold","color":"#000000"},"encoding":{"text":{"field":"l"}}}
]
},
{
"resolve":{"scale":{"color":"independent"}},
"spacing":4,
"hconcat":[
{
"width":248,"height":226,
"title":{"text":"Post Pulse","fontSize":13.5,"offset":6},
"encoding":{
"x":{"field":"f","type":"nominal","axis":{"title":["Average Intrinsic Cell","Firing Frequency, Hz"],"labelAngle":0,"labelFontSize":9.5,"labelPadding":3,"titleFontSize":13,"titlePadding":5,"titleLineHeight":15}},
"y":{"field":"d","type":"ordinal","sort":"descending","axis":{"values":[0.5,2.5,4.5,6.5,8.5,10.5],"title":null,"labelFontSize":9.5,"labelPadding":3}}
},
"layer":[
{"data":{"name":"aq"},"mark":{"type":"rect","stroke":"#000000","strokeWidth":0.6},"encoding":{"color":{"field":"s","type":"quantitative","scale":{"type":"linear","domain":[0,0.125,0.375,0.625,0.875,1],"range":["#00008f","#0000ff","#00ffff","#ffff00","#ff0000","#800000"],"interpolate":"rgb"},"legend":null}}},
{"data":{"values":[{"f":"91.7","d":5.5,"l":"D"},{"f":"91.7","d":1.5,"l":"C"}]},"mark":{"type":"text","fontSize":22,"fontWeight":"bold","color":"#000000"},"encoding":{"text":{"field":"l"}}}
]
},
{
"width":10,"height":226,
"data":{"name":"cb"},
"mark":{"type":"rect"},
"encoding":{
"y":{"field":"v","type":"quantitative","scale":{"domain":[0,1],"nice":false,"zero":false},"axis":{"orient":"right","values":[0,0.2,0.4,0.6,0.8,1],"format":"~g","labelFontSize":10,"labelPadding":4,"ticks":true,"tickSize":-3,"tickColor":"#444444","title":"Synchrony Measure","titleFontSize":15,"titleAngle":270,"titleBaseline":"top","titlePadding":2}},
"y2":{"field":"w"},
"color":{"field":"v","type":"quantitative","scale":{"type":"linear","domain":[0,0.125,0.375,0.625,0.875,1],"range":["#00008f","#0000ff","#00ffff","#ffff00","#ff0000","#800000"],"interpolate":"rgb"},"legend":null}
}
}
]
}
]
},
{
"title":{"text":"B","orient":"left","anchor":"end","angle":0,"align":"right","baseline":"top","fontSize":32,"offset":0,"dx":15,"dy":-3.5},
"resolve":{"scale":{"color":"independent"}},
"spacing":7.5,
"hconcat":[
{
"width":238,"height":226,
"title":{"text":"Pre Pulse","fontSize":13.5,"offset":6},
"encoding":{
"x":{"field":"f","type":"nominal","axis":{"title":["Average Intrinsic Cell","Firing Frequency, Hz"],"labelAngle":0,"labelFontSize":9.5,"labelPadding":3,"titleFontSize":13,"titlePadding":5,"titleLineHeight":15}},
"y":{"field":"d","type":"ordinal","sort":"descending","axis":{"values":[0.5,2.5,4.5,6.5,8.5,10.5],"title":"Synaptic Decay Constant, ms","labelFontSize":9.5,"labelPadding":3,"titleFontSize":13,"titlePadding":3}}
},
"layer":[
{"data":{"name":"bp"},"mark":{"type":"rect","stroke":"#000000","strokeWidth":0.6},"encoding":{"color":{"field":"s","type":"quantitative","scale":{"type":"linear","domain":[0,0.125,0.375,0.625,0.875,1],"range":["#00008f","#0000ff","#00ffff","#ffff00","#ff0000","#800000"],"interpolate":"rgb"},"legend":null}}},
{"data":{"values":[{"f":"91.7","d":5.5,"l":"D"},{"f":"91.7","d":1.5,"l":"C"}]},"mark":{"type":"text","fontSize":22,"fontWeight":"bold","color":"#ffffff"},"encoding":{"text":{"field":"l"}}}
]
},
{
"resolve":{"scale":{"color":"independent"}},
"spacing":4,
"hconcat":[
{
"width":248,"height":226,
"title":{"text":"Post Pulse","fontSize":13.5,"offset":6},
"encoding":{
"x":{"field":"f","type":"nominal","axis":{"title":["Average Intrinsic Cell","Firing Frequency, Hz"],"labelAngle":0,"labelFontSize":9.5,"labelPadding":3,"titleFontSize":13,"titlePadding":5,"titleLineHeight":15}},
"y":{"field":"d","type":"ordinal","sort":"descending","axis":{"values":[0.5,2.5,4.5,6.5,8.5,10.5],"title":null,"labelFontSize":9.5,"labelPadding":3}}
},
"layer":[
{"data":{"name":"bq"},"mark":{"type":"rect","stroke":"#000000","strokeWidth":0.6},"encoding":{"color":{"field":"s","type":"quantitative","scale":{"type":"linear","domain":[0,0.125,0.375,0.625,0.875,1],"range":["#00008f","#0000ff","#00ffff","#ffff00","#ff0000","#800000"],"interpolate":"rgb"},"legend":null}}},
{"data":{"values":[{"f":"91.7","d":5.5,"l":"D"},{"f":"91.7","d":1.5,"l":"C"}]},"mark":{"type":"text","fontSize":22,"fontWeight":"bold","color":"#ffffff"},"encoding":{"text":{"field":"l"}}}
]
},
{
"width":10,"height":226,
"data":{"name":"cb"},
"mark":{"type":"rect"},
"encoding":{
"y":{"field":"v","type":"quantitative","scale":{"domain":[0,1],"nice":false,"zero":false},"axis":{"orient":"right","values":[0,0.2,0.4,0.6,0.8,1],"format":"~g","labelFontSize":10,"labelPadding":4,"ticks":true,"tickSize":-3,"tickColor":"#444444","title":"Burst Similarity Measure","titleFontSize":15,"titleAngle":270,"titleBaseline":"top","titlePadding":2}},
"y2":{"field":"w"},
"color":{"field":"v","type":"quantitative","scale":{"type":"linear","domain":[0,0.125,0.375,0.625,0.875,1],"range":["#00008f","#0000ff","#00ffff","#ffff00","#ff0000","#800000"],"interpolate":"rgb"},"legend":null}
}
}
]
}
]
}
]
}
]
},
{
"spacing":1,
"hconcat":[
{
"title":{"text":"C","orient":"left","anchor":"end","angle":0,"align":"right","baseline":"top","fontSize":30,"offset":0,"dx":24,"dy":15},
"spacing":6,
"hconcat":[
{
"width":172,"height":184,
"view":{"stroke":"#aaaaaa"},
"title":{"text":"Pre Pulse","fontSize":14,"offset":-7},
"data":{"name":"c1"},
"mark":{"type":"circle","size":9,"color":"#0000ff","opacity":1},
"encoding":{
"x":{"field":"t","type":"quantitative","scale":{"domain":[1250,1300],"nice":false,"zero":false},"axis":{"title":"Time, ms","values":[1250,1260,1270,1280,1290,1300],"format":"d","labelExpr":"datum.value==1250||datum.value==1290?datum.label:''","labelFlush":false,"labelPadding":5,"labelFontSize":11,"ticks":true,"tickSize":-3,"tickColor":"#999999","titleFontSize":12,"titlePadding":-9}},
"y":{"field":"n","type":"quantitative","scale":{"domain":[1,50],"nice":false,"zero":false},"axis":{"title":"Neuron Index","values":[5,10,15,20,25,30,35,40,45,50],"labelExpr":"datum.value==5||datum.value==50?datum.label:''","labelPadding":5,"labelFontSize":11,"ticks":true,"tickSize":-3,"tickColor":"#999999","titleFontSize":12,"titlePadding":-9}}
}
},
{
"width":172,"height":184,
"view":{"stroke":"#aaaaaa"},
"title":{"text":"Post Pulse","fontSize":14,"offset":-7},
"data":{"name":"c2"},
"mark":{"type":"circle","size":9,"color":"#0000ff","opacity":1},
"encoding":{
"x":{"field":"t","type":"quantitative","scale":{"domain":[2450,2500],"nice":false,"zero":false},"axis":{"title":"Time, ms","values":[2450,2460,2470,2480,2490,2500],"format":"d","labelExpr":"datum.value==2450||datum.value==2490?datum.label:''","labelFlush":false,"labelPadding":5,"labelFontSize":11,"ticks":true,"tickSize":-3,"tickColor":"#999999","titleFontSize":12,"titlePadding":-9}},
"y":{"field":"n","type":"quantitative","scale":{"domain":[1,50],"nice":false,"zero":false},"axis":{"title":null,"values":[5,10,15,20,25,30,35,40,45,50],"labelExpr":"datum.value==5||datum.value==50?datum.label:''","labelPadding":5,"labelFontSize":11,"ticks":true,"tickSize":-3,"tickColor":"#999999"}}
}
}
]
},
{
"title":{"text":"D","orient":"left","anchor":"end","angle":0,"align":"right","baseline":"top","fontSize":30,"offset":0,"dx":23,"dy":15},
"spacing":5,
"hconcat":[
{
"width":172,"height":184,
"view":{"stroke":"#aaaaaa"},
"title":{"text":"Pre Pulse","fontSize":14,"offset":-7},
"data":{"name":"d1"},
"mark":{"type":"circle","size":9,"color":"#0000ff","opacity":1},
"encoding":{
"x":{"field":"t","type":"quantitative","scale":{"domain":[1250,1300],"nice":false,"zero":false},"axis":{"title":"Time, ms","values":[1250,1260,1270,1280,1290,1300],"format":"d","labelExpr":"datum.value==1250||datum.value==1290?datum.label:''","labelFlush":false,"labelPadding":5,"labelFontSize":11,"ticks":true,"tickSize":-3,"tickColor":"#999999","titleFontSize":12,"titlePadding":-9}},
"y":{"field":"n","type":"quantitative","scale":{"domain":[1,50],"nice":false,"zero":false},"axis":{"title":"Neuron Index","values":[5,10,15,20,25,30,35,40,45,50],"labelExpr":"datum.value==5||datum.value==50?datum.label:''","labelPadding":5,"labelFontSize":11,"ticks":true,"tickSize":-3,"tickColor":"#999999","titleFontSize":12,"titlePadding":-9}}
}
},
{
"width":172,"height":184,
"view":{"stroke":"#aaaaaa"},
"title":{"text":"Post Pulse","fontSize":14,"offset":-7},
"data":{"name":"d2"},
"mark":{"type":"circle","size":9,"color":"#0000ff","opacity":1},
"encoding":{
"x":{"field":"t","type":"quantitative","scale":{"domain":[2450,2500],"nice":false,"zero":false},"axis":{"title":"Time, ms","values":[2450,2460,2470,2480,2490,2500],"format":"d","labelExpr":"datum.value==2450||datum.value==2490?datum.label:''","labelFlush":false,"labelPadding":5,"labelFontSize":11,"ticks":true,"tickSize":-3,"tickColor":"#999999","titleFontSize":12,"titlePadding":-9}},
"y":{"field":"n","type":"quantitative","scale":{"domain":[1,50],"nice":false,"zero":false},"axis":{"title":null,"values":[5,10,15,20,25,30,35,40,45,50],"labelExpr":"datum.value==5||datum.value==50?datum.label:''","labelPadding":5,"labelFontSize":11,"ticks":true,"tickSize":-3,"tickColor":"#999999"}}
}
}
]
}
]
}
]
}
